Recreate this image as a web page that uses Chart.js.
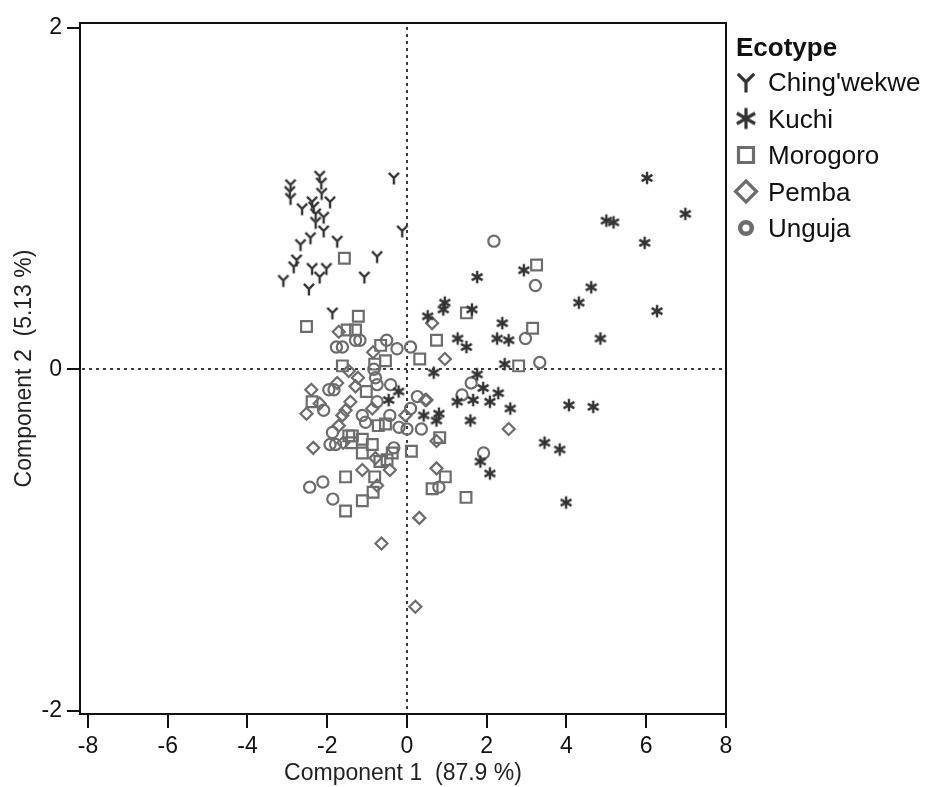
<!DOCTYPE html>
<html>
<head>
<meta charset="utf-8">
<script src="https://cdn.jsdelivr.net/npm/chart.js"></script>
<style>
  body { margin: 0; background: #fff; }
</style>
</head>
<body>
<canvas id="pca" width="928" height="787"></canvas>
<script>
// Scores, one [component 1, component 2] pair per animal
const chingwekwe = [
  [-2.19, 1.13], [-2.15, 1.09], [-2.92, 1.08], [-2.94, 1.04], [-2.92, 1.00],
  [-0.33, 1.12], [-2.14, 1.03], [-1.93, 0.98], [-2.38, 0.98], [-2.63, 0.94],
  [-2.34, 0.95], [-2.29, 0.91], [-2.09, 0.89], [-2.29, 0.86], [-2.09, 0.81],
  [-2.42, 0.77], [-1.75, 0.75], [-2.67, 0.73], [-0.12, 0.81], [-0.75, 0.66],
  [-2.77, 0.64], [-2.84, 0.60], [-2.38, 0.59], [-2.02, 0.59], [-2.19, 0.54],
  [-3.10, 0.52], [-1.07, 0.54], [-2.46, 0.47], [-1.87, 0.33]
];
const kuchi = [
  [6.02, 1.12], [6.98, 0.91], [5.00, 0.87], [5.18, 0.86], [5.96, 0.74],
  [4.62, 0.48], [4.31, 0.39], [6.27, 0.34], [4.85, 0.18], [2.93, 0.58],
  [1.76, 0.54], [0.95, 0.39], [0.91, 0.35], [0.52, 0.31], [1.63, 0.35],
  [2.39, 0.27], [1.27, 0.18], [1.49, 0.13], [2.26, 0.18], [2.55, 0.17],
  [2.45, 0.03], [0.67, -0.02], [1.76, -0.03], [1.91, -0.11], [2.29, -0.14],
  [1.26, -0.19], [1.66, -0.18], [2.08, -0.19], [2.59, -0.23], [4.06, -0.21],
  [4.67, -0.22], [0.42, -0.27], [0.80, -0.26], [0.74, -0.30], [1.59, -0.30],
  [3.45, -0.43], [3.83, -0.47], [1.84, -0.54], [2.08, -0.61], [3.99, -0.78],
  [-0.21, -0.13], [-0.46, -0.18]
];
const morogoro = [
  [3.25, 0.61], [1.49, 0.33], [3.15, 0.24], [0.74, 0.17], [0.32, 0.06],
  [2.80, 0.02], [0.82, -0.40], [0.11, -0.48], [0.96, -0.63], [0.63, -0.70],
  [1.48, -0.75], [-1.46, -0.39], [-1.37, -0.39], [-1.39, -0.43], [-1.12, -0.41],
  [-0.87, -0.44], [-1.12, -0.49], [-0.68, -0.54], [-0.50, -0.53], [-0.37, -0.49],
  [-1.54, -0.63], [-0.81, -0.63], [-0.85, -0.72], [-1.12, -0.77], [-1.54, -0.83],
  [-0.72, -0.33], [-0.54, -0.32], [-2.52, 0.25], [-1.22, 0.31], [-1.50, 0.23],
  [-1.29, 0.23], [-0.66, 0.14], [-0.54, 0.05], [-0.81, 0.03], [-1.62, 0.02],
  [-1.02, -0.13], [-2.38, -0.19], [-1.57, 0.65]
];
const pemba = [
  [0.63, 0.27], [0.95, 0.06], [0.49, -0.18], [0.74, -0.42], [2.55, -0.35],
  [0.74, -0.58], [0.31, -0.87], [-2.35, -0.46], [-1.60, -0.43], [-0.79, -0.52],
  [-1.12, -0.59], [-0.43, -0.59], [-0.75, -0.68], [-0.64, -1.02], [0.21, -1.39],
  [-1.71, -0.33], [-1.71, 0.22], [-0.85, 0.10], [-1.46, -0.01], [-1.23, -0.05],
  [-1.75, -0.08], [-2.40, -0.12], [-1.29, -0.10], [-2.52, -0.26], [-2.19, -0.20],
  [-1.42, -0.19], [-1.54, -0.24], [-1.62, -0.27], [-0.87, -0.23], [-0.04, -0.27],
  [0.46, -0.18]
];
const unguja = [
  [2.18, 0.75], [3.22, 0.49], [2.97, 0.18], [0.09, 0.13], [3.33, 0.04],
  [1.61, -0.08], [1.38, -0.15], [0.26, -0.16], [0.09, -0.23], [0.36, -0.35],
  [0.00, -0.35], [1.92, -0.49], [0.80, -0.69], [-1.93, -0.44], [-1.79, -0.44],
  [-0.33, -0.46], [-2.44, -0.69], [-2.11, -0.66], [-1.86, -0.76], [-1.04, -0.31],
  [-1.87, -0.37], [-0.20, -0.34], [-1.29, 0.17], [-1.18, 0.17], [-1.77, 0.13],
  [-1.62, 0.13], [-0.51, 0.17], [-0.25, 0.12], [-0.83, 0.00], [-0.79, -0.05],
  [-0.75, -0.09], [-1.96, -0.12], [-1.83, -0.12], [-0.41, -0.09], [-2.09, -0.24],
  [-0.75, -0.19], [-1.12, -0.27], [-0.43, -0.27]
];

const ecotypes = ["Ching'wekwe", "Kuchi", "Morogoro", "Pemba", "Unguja"];
const xTicks = [-8, -6, -4, -2, 0, 2, 4, 6, 8];
const yTicks = [-2, 0, 2];

const FONT = '"Liberation Sans", Arial, Helvetica, sans-serif';
const DARK = '#333333';
const GREY = '#6c6c6c';

// custom marker shapes the library does not have
function yCanvas(size, lw, color) {
  const c = document.createElement('canvas');
  c.width = c.height = Math.ceil(size + lw * 2);
  const g = c.getContext('2d');
  const m = c.width / 2, r = size / 2;
  g.strokeStyle = color;
  g.lineWidth = lw;
  g.beginPath();
  g.moveTo(m, m); g.lineTo(m, m + r);
  g.moveTo(m, m); g.lineTo(m - r * 0.78, m - r * 0.78);
  g.moveTo(m, m); g.lineTo(m + r * 0.78, m - r * 0.78);
  g.stroke();
  return c;
}

function starCanvas(size, lw, color) {
  const c = document.createElement('canvas');
  c.width = c.height = Math.ceil(size + lw * 2);
  const g = c.getContext('2d');
  const m = c.width / 2, r = size / 2;
  g.strokeStyle = color;
  g.lineWidth = lw;
  g.beginPath();
  for (let i = 0; i < 3; i++) {
    const a = Math.PI / 2 + i * Math.PI / 3;
    g.moveTo(m + r * Math.cos(a), m + r * Math.sin(a));
    g.lineTo(m - r * Math.cos(a), m - r * Math.sin(a));
  }
  g.stroke();
  return c;
}

const toXY = arr => arr.map(p => ({ x: p[0], y: p[1] }));

// dashed lines through the origin
const refLines = {
  id: 'refLines',
  beforeDatasetsDraw(chart) {
    const { ctx, chartArea: a, scales: { x, y } } = chart;
    const x0 = Math.round(x.getPixelForValue(0)), y0 = Math.round(y.getPixelForValue(0));
    ctx.save();
    ctx.strokeStyle = '#3a3a3a';
    ctx.lineWidth = 2;
    ctx.setLineDash([3, 4]);
    ctx.beginPath();
    ctx.moveTo(x0, a.top + 4); ctx.lineTo(x0, a.bottom - 4);
    ctx.moveTo(a.left + 2, y0); ctx.lineTo(a.right - 4, y0);
    ctx.stroke();
    ctx.restore();
  }
};

// frame round the plot and the legend on the right
const frameAndLegend = {
  id: 'frameAndLegend',
  afterDraw(chart) {
    const { ctx, chartArea: a } = chart;
    ctx.save();
    ctx.strokeStyle = '#111';
    ctx.lineWidth = 2;
    ctx.strokeRect(a.left, a.top, a.right - a.left, a.bottom - a.top);

    const lx = 736, sx = 746, tx = 768;
    ctx.fillStyle = '#111';
    ctx.textBaseline = 'alphabetic';
    ctx.font = 'bold 26px ' + FONT;
    ctx.fillText('Ecotype', lx, 56);
    ctx.font = '26px ' + FONT;
    ecotypes.forEach((name, i) => {
      const cy = 82 + i * 36.5;
      ctx.fillText(name, tx, cy + 9);
      ctx.save();
      if (i === 0) {
        const im = yCanvas(21, 3.2, DARK);
        ctx.drawImage(im, sx - im.width / 2, cy - im.height / 2);
      } else if (i === 1) {
        const im = starCanvas(21, 3.2, DARK);
        ctx.drawImage(im, sx - im.width / 2, cy - im.height / 2);
      } else {
        ctx.strokeStyle = GREY;
        ctx.lineWidth = 3.2;
        ctx.beginPath();
        if (i === 2) ctx.rect(sx - 7.5, cy - 7.5, 15, 15);
        if (i === 3) { ctx.moveTo(sx, cy - 10.5); ctx.lineTo(sx + 10.5, cy); ctx.lineTo(sx, cy + 10.5); ctx.lineTo(sx - 10.5, cy); ctx.closePath(); }
        if (i === 4) { ctx.lineWidth = 4.5; ctx.arc(sx, cy, 5.8, 0, Math.PI * 2); }
        ctx.stroke();
      }
      ctx.restore();
    });
    ctx.restore();
  }
};

const tickFont = { family: FONT, size: 23 };

new Chart(document.getElementById('pca'), {
  type: 'scatter',
  data: {
    datasets: [
      { label: ecotypes[0], data: toXY(chingwekwe), pointStyle: yCanvas(13, 2.4, DARK) },
      { label: ecotypes[1], data: toXY(kuchi), pointStyle: starCanvas(12.5, 2.4, DARK) },
      { label: ecotypes[2], data: toXY(morogoro), pointStyle: 'rect', pointRadius: 7.6,
        borderColor: GREY, backgroundColor: 'rgba(0,0,0,0)', borderWidth: 2.2 },
      { label: ecotypes[3], data: toXY(pemba), pointStyle: 'rectRot', pointRadius: 6,
        borderColor: GREY, backgroundColor: 'rgba(0,0,0,0)', borderWidth: 2.2 },
      { label: ecotypes[4], data: toXY(unguja), pointStyle: 'circle', pointRadius: 5.6,
        borderColor: GREY, backgroundColor: 'rgba(0,0,0,0)', borderWidth: 2.2 }
    ]
  },
  options: {
    responsive: false,
    animation: false,
    events: [],
    layout: { padding: { top: 23, right: 202, left: 0, bottom: 0 } },
    plugins: { legend: { display: false }, tooltip: { enabled: false } },
    scales: {
      x: {
        type: 'linear', min: -8.2, max: 8,
        afterBuildTicks: s => { s.ticks = xTicks.map(v => ({ value: v })); },
        afterFit: s => { s.height = 73; },
        grid: { drawOnChartArea: false, drawTicks: true, tickLength: 14, color: '#111', lineWidth: 2 },
        border: { display: false },
        ticks: { font: tickFont, color: '#111', padding: 5, autoSkip: false, maxRotation: 0 },
        title: { display: true, text: 'Component 1  (87.9 %)', font: tickFont, color: '#222', padding: { top: 0, bottom: 0 } }
      },
      y: {
        type: 'linear', min: -2.018, max: 2.027,
        afterBuildTicks: s => { s.ticks = yTicks.map(v => ({ value: v })); },
        afterFit: s => { s.width = 80; },
        grid: { drawOnChartArea: false, drawTicks: true, tickLength: 13, color: '#111', lineWidth: 2 },
        border: { display: false },
        ticks: { font: tickFont, color: '#111', padding: 5, autoSkip: false },
        title: { display: true, text: 'Component 2  (5.13 %)', font: tickFont, color: '#222', padding: { top: 11, bottom: 0 } }
      }
    }
  },
  plugins: [refLines, frameAndLegend]
});
</script>
</body>
</html>
